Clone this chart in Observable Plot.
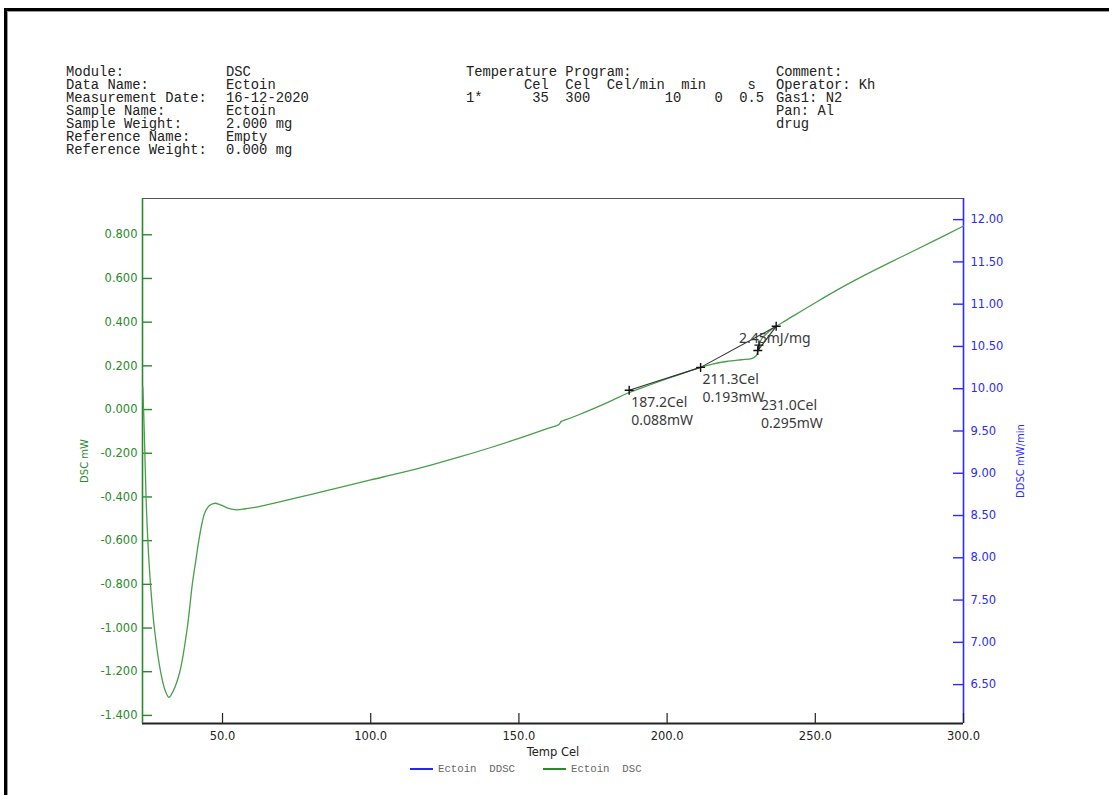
<!DOCTYPE html>
<html>
<head>
<meta charset="utf-8">
<script src="https://cdn.jsdelivr.net/npm/d3@7"></script>
<script src="https://cdn.jsdelivr.net/npm/@observablehq/plot@0.6"></script>
<style>
  html, body { margin: 0; padding: 0; background: #fff; }
  #page { position: relative; width: 1109px; height: 795px; overflow: hidden; background: #fff; }
  #frame { position: absolute; left: 4px; top: 8px; width: 1120px; height: 800px;
           border-left: 3px solid #000; border-top: 3px solid #000; box-shadow: inset 1px 1px 0 #999; }
  .mono { position: absolute; font-family: "Liberation Mono", monospace; font-size: 13.8px;
          line-height: 13px; white-space: pre; color: #222; }
  #chart { position: absolute; left: 0; top: 0; }
  .legend { position: absolute; top: 762px; font-family: "Liberation Mono", monospace; font-size: 10.7px;
            color: #666; white-space: pre; line-height: 14px; }
  .legend .sw { display: inline-block; width: 23px; height: 2px; vertical-align: middle; margin-right: 5px; }
</style>
</head>
<body>
<div id="page">
  <div id="frame"></div>
  <div class="mono" id="infoLabels" style="left:66px; top:66px;"></div>
  <div class="mono" id="infoValues" style="left:226px; top:66px;"></div>
  <div class="mono" id="program" style="left:466px; top:66px;"></div>
  <div class="mono" id="comment" style="left:776px; top:66px;"></div>
  <div id="chart"></div>
  <div class="legend" style="left:410px;"><span class="sw" style="background:#2323ff"></span>Ectoin  DDSC</div>
  <div class="legend" style="left:543px;"><span class="sw" style="background:#2a8a2a"></span>Ectoin  DSC</div>
</div>
<script>
// Measurement header
const infoLabels = ["Module:", "Data Name:", "Measurement Date:", "Sample Name:", "Sample Weight:", "Reference Name:", "Reference Weight:"];
const infoValues = ["DSC", "Ectoin", "16-12-2020", "Ectoin", "2.000 mg", "Empty", "0.000 mg"];
const programLines = [
  "Temperature Program:",
  "       Cel  Cel  Cel/min  min     s",
  "1*      35  300         10    0  0.5"
];
const commentLines = ["Comment:", "Operator: Kh", "Gas1: N2", "Pan: Al", "drug"];

// DSC trace: temperature (Cel) and heat flow (mW)
const dscTemp = [23.1, 23.6, 24.2, 24.8, 25.7, 27.0, 29.1, 30.5, 31.9,
  33.3, 35.6, 38.1, 39.8, 41.0, 42.0, 43.0, 44.0, 45.5, 47.3, 49.3, 52.0, 54.7, 57.8,
  62, 70, 80, 90, 100, 110, 120, 130, 140, 150, 160, 163.5, 164.3, 165.2, 170, 180, 187.2, 190, 200,
  211.3, 215, 220, 225, 228.5, 230, 230.6, 231.0, 232, 234, 236.8, 240, 250, 260, 270, 280, 290, 300];
const dscValue = [0.105, -0.100, -0.400, -0.600, -0.800, -1.000, -1.200, -1.280, -1.317,
  -1.290, -1.200, -1.000, -0.800, -0.690, -0.600, -0.525, -0.473, -0.440, -0.429, -0.436, -0.452, -0.459, -0.454,
  -0.445, -0.420, -0.388, -0.355, -0.322, -0.290, -0.255, -0.217, -0.176, -0.132, -0.085, -0.068, -0.054, -0.050, -0.025, 0.033, 0.078, 0.092, 0.141,
  0.193, 0.207, 0.220, 0.228, 0.233, 0.245, 0.270, 0.295, 0.326, 0.353, 0.381, 0.407, 0.489, 0.567, 0.638, 0.705, 0.772, 0.840];

// Peak analysis points
const pointTemp = [187.2, 211.3, 231.0];
const pointValue = [0.088, 0.193, 0.295];
const pointLabel = ["187.2Cel\n0.088mW", "211.3Cel\n0.193mW", "231.0Cel\n0.295mW"];
const peakEndTemp = 236.8;
const peakEndValue = 0.381;
const enthalpyLabel = "2.45mJ/mg";

// Axis ticks
const tempTicks = [50, 100, 150, 200, 250, 300];
const dscTicks = [0.8, 0.6, 0.4, 0.2, 0, -0.2, -0.4, -0.6, -0.8, -1.0, -1.2, -1.4];
const ddscTicks = [12.0, 11.5, 11.0, 10.5, 10.0, 9.5, 9.0, 8.5, 8.0, 7.5, 7.0, 6.5];

document.getElementById("infoLabels").textContent = infoLabels.join("\n");
document.getElementById("infoValues").textContent = infoValues.join("\n");
document.getElementById("program").textContent = programLines.join("\n");
document.getElementById("comment").textContent = commentLines.join("\n");

const green = "#2a8a2a", curveGreen = "#4a9e4a", blue = "#2b2bff";
const W = 1109, H = 795, mL = 142, mR = 146, mT = 198, mB = 72;
const frameW = W - mL - mR, frameH = H - mT - mB;
const xDom = [23.0, 300], yDom = [-1.437, 0.966];
// DDSC (mW/min) shares the frame; map its values onto the DSC scale
const ddscDom = [6.04, 12.25];
const ddscToDsc = d3.scaleLinear().domain(ddscDom).range(yDom);

const trace = dscTemp.map((t, i) => ({t, v: dscValue[i]}));
const pts = pointTemp.map((t, i) => ({t, v: pointValue[i], label: pointLabel[i]}));
const baseline = [
  {seg: 0, t: pointTemp[0], v: pointValue[0]}, {seg: 0, t: pointTemp[1], v: pointValue[1]},
  {seg: 1, t: pointTemp[1], v: pointValue[1]}, {seg: 1, t: peakEndTemp, v: peakEndValue},
  {seg: 2, t: 230.6, v: 0.270}, {seg: 2, t: peakEndTemp, v: peakEndValue}
];
const crosses = [...pts, {t: 230.6, v: 0.270}, {t: peakEndTemp, v: peakEndValue}];

const plusSymbol = {
  draw(context, size) {
    const r = Math.sqrt(size / Math.PI);
    context.moveTo(-r, 0); context.lineTo(r, 0);
    context.moveTo(0, -r); context.lineTo(0, r);
  }
};

const labelFont = {fill: "#3a3a3a", fontFamily: "Noto Sans", fontSize: 14, lineHeight: 1.29,
  textAnchor: "start", lineAnchor: "middle"};

const chart = Plot.plot({
  width: W, height: H,
  marginLeft: mL, marginRight: mR, marginTop: mT, marginBottom: mB,
  x: {domain: xDom},
  y: {domain: yDom},
  style: {fontFamily: "DejaVu Sans", fontSize: "11.5px", background: "transparent", overflow: "visible"},
  marks: [
    // frame
    Plot.ruleY([yDom[1]], {stroke: "#555", strokeWidth: 1.2}),
    Plot.ruleY([yDom[0]], {stroke: "#222", strokeWidth: 1.8}),
    Plot.ruleX([xDom[0]], {stroke: green, strokeWidth: 1.6}),
    Plot.ruleX([xDom[1]], {stroke: blue, strokeWidth: 1.6}),
    // inward ticks
    Plot.tickY(dscTicks, {y: d => d, stroke: green, strokeWidth: 1.4, insetRight: frameW - 10}),
    Plot.tickY(ddscTicks, {y: d => ddscToDsc(d), stroke: blue, strokeWidth: 1.4, insetLeft: frameW - 10}),
    Plot.tickX(tempTicks, {x: d => d, stroke: "#222", strokeWidth: 1.2, insetTop: frameH - 10}),
    // axes
    Plot.axisY(dscTicks, {anchor: "left", tickSize: 0, tickPadding: 5, color: green,
      tickFormat: d => d.toFixed(3), label: "DSC mW", labelAnchor: "center", labelArrow: "none",
      labelOffset: 62}),
    Plot.axisY(ddscTicks.map(d => ddscToDsc(d)), {anchor: "right", tickSize: 0, tickPadding: 7, color: blue,
      tickFormat: d => ddscToDsc.invert(d).toFixed(2), label: "DDSC mW/min", labelAnchor: "center",
      labelArrow: "none", labelOffset: 60}),
    Plot.axisX(tempTicks, {anchor: "bottom", tickSize: 0, tickPadding: 8, color: "#222",
      tickFormat: d => d.toFixed(1), label: "Temp Cel", labelAnchor: "center", labelArrow: "none",
      labelOffset: 32}),
    // DSC trace
    Plot.line(trace, {x: "t", y: "v", stroke: curveGreen, strokeWidth: 1.3, curve: "catmull-rom"}),
    // peak analysis
    Plot.line(baseline, {x: "t", y: "v", z: "seg", stroke: "#333", strokeWidth: 1.1}),
    Plot.dot(crosses, {x: "t", y: "v", symbol: plusSymbol, r: 4.5, stroke: "#111", strokeWidth: 1.4, fill: "none"}),
    Plot.text(pts.slice(0, 2), {x: "t", y: "v", text: "label", dx: 2, dy: 20, ...labelFont}),
    Plot.text(pts.slice(2), {x: "t", y: "v", text: "label", dx: 2, dy: 68, ...labelFont}),
    Plot.text([enthalpyLabel], {x: pointTemp[2], y: pointValue[2], text: d => d, dx: -20, dy: -8, ...labelFont})
  ]
});

document.getElementById("chart").appendChild(chart);

// axis title sizes
chart.querySelectorAll("g[aria-label='y-axis label'] text").forEach(t => t.setAttribute("font-size", "10px"));
chart.querySelectorAll("g[aria-label='x-axis label'] text").forEach(t => t.setAttribute("font-size", "11.5px"));
</script>
</body>
</html>
